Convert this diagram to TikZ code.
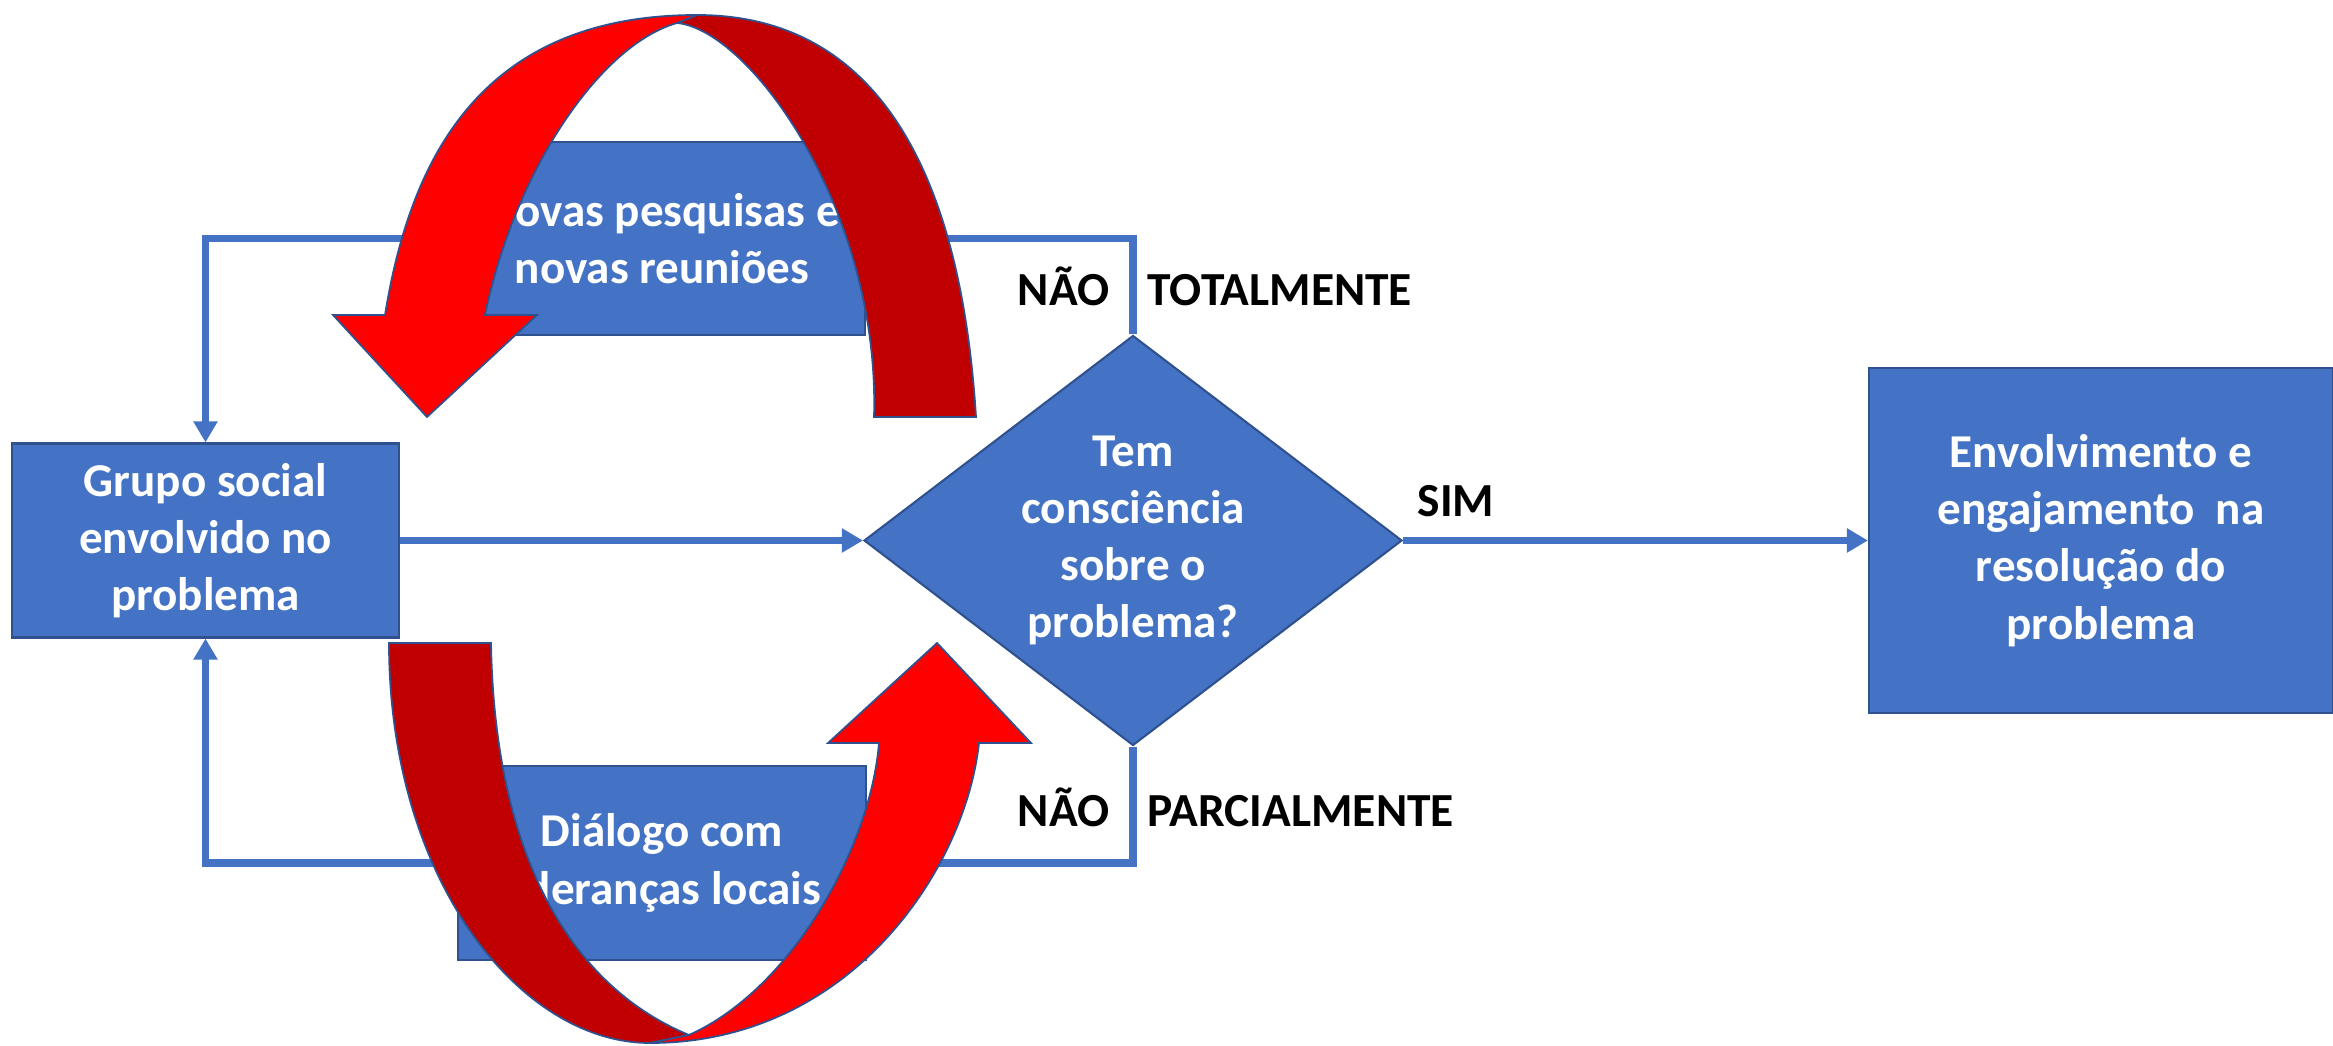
\documentclass[tikz,border=0pt]{standalone}
\usepackage{fontspec}
\setmainfont{Carlito}
\usetikzlibrary{shapes.geometric,arrows.meta,backgrounds}
\definecolor{boxblue}{HTML}{4472C4}
\definecolor{edgeblue}{HTML}{2F528F}
\definecolor{darkred}{HTML}{C00000}
\tikzset{
  caixa/.style={draw=edgeblue, line width=0.6pt, fill=boxblue, text=white, align=center,
    font=\fontsize{13.4}{16.3}\selectfont\bfseries, inner sep=2pt},
  losango/.style={caixa, diamond, aspect=1.31, minimum width=5.38cm, minimum height=4.10cm, inner sep=0pt},
  liga/.style={draw=boxblue, line width=2.1pt, -{Triangle[width=0.23cm,length=0.21cm]}},
  rotulo/.style={font=\fontsize{13.5}{16}\selectfont\bfseries, inner sep=0pt},
  seta/.style={draw=edgeblue, line width=0.5pt}
}
\begin{document}
\begin{tikzpicture}
        \useasboundingbox (0,0) rectangle (23.33,10.45);

        \node[caixa, minimum width=3.87cm, minimum height=1.94cm] (grupo) at (2.055,5.045) {Grupo social\\envolvido no\\problema};
        \node[losango] (dec) at (11.33,5.045) {Tem\\consciência\\sobre o\\problema?};
        \node[caixa, minimum width=4.64cm, minimum height=3.45cm] (envol) at (21.01,5.045) {Envolvimento e\\engajamento~ na\\resolução do\\problema};
        \node[caixa, minimum width=4.06cm, minimum height=1.93cm] (pesq) at (6.62,8.065) {Novas pesquisas e\\novas reuniões};
        \node[caixa, minimum width=4.08cm, minimum height=1.94cm] (dialogo) at (6.62,1.82) {Diálogo com\\lideranças locais};

        \begin{scope}[on background layer]
            \draw[liga] (grupo) -- (dec);
            \draw[liga] (dec) -- (envol);
            \draw[liga] (dec.north) -- (pesq.center -| dec.north) -| (grupo.north);
            \draw[liga] (dec.south) -- (dialogo.center -| dec.south) -| (grupo.south);
        \end{scope}

        \node[rotulo, anchor=base east] (nao1) at (11.10,7.39) {NÃO};
        \node[rotulo, anchor=base west] (total) at (11.47,7.39) {TOTALMENTE};
        \node[rotulo, anchor=base east] (nao2) at (11.10,2.18) {NÃO};
        \node[rotulo, anchor=base west] (parc) at (11.47,2.18) {PARCIALMENTE};
        \node[rotulo, anchor=base west] (sim) at (14.17,5.28) {SIM};

        \draw[seta, fill=darkred] (6.77,10.22) -- (6.97,10.30) .. controls (8.70,10.30) and (9.60,8.85) .. (9.76,6.28)
            -- (8.74,6.28) .. controls (8.80,8.35) and (7.50,10.15) .. (6.77,10.22) -- cycle;
        \draw[seta, fill=red] (3.33,7.30) -- (3.85,7.30) .. controls (4.10,8.85) and (4.80,10.30) .. (6.97,10.30)
            -- (6.77,10.22) .. controls (6.00,10.00) and (5.15,8.75) .. (4.85,7.30) -- (5.37,7.30) -- (4.27,6.28) -- cycle;

        \draw[seta, fill=darkred] (3.89,4.02) .. controls (3.89,1.65) and (5.20,0.02) .. (6.50,0.02)
            -- (6.89,0.10) .. controls (5.80,0.55) and (4.95,1.75) .. (4.91,4.02) -- cycle;
        \draw[seta, fill=red] (6.89,0.10) .. controls (7.90,0.55) and (8.70,1.95) .. (8.79,3.02) -- (8.28,3.02)
            -- (9.37,4.02) -- (10.31,3.02) -- (9.79,3.02) .. controls (9.65,1.75) and (8.50,0.02) .. (6.50,0.02) -- cycle;
\end{tikzpicture}
\end{document}
